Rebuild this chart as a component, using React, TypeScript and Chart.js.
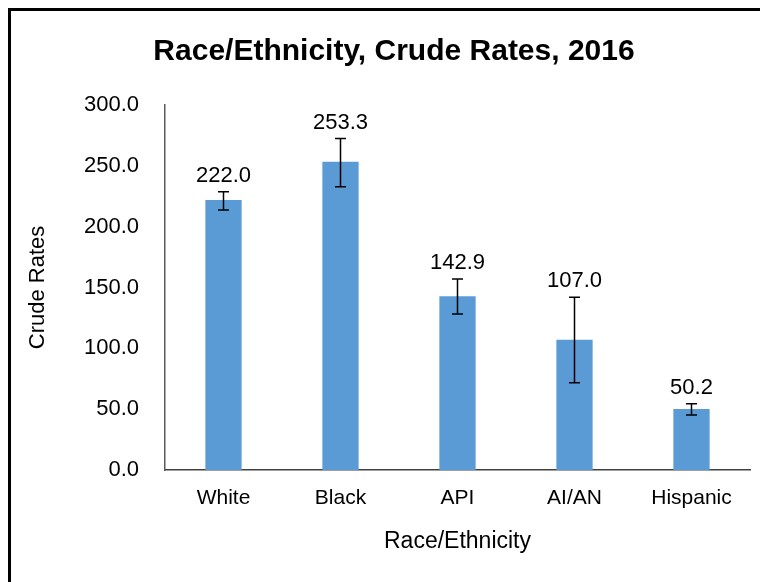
import React, { useEffect, useRef } from "react";
import { Chart, registerables } from "chart.js";

Chart.register(...registerables);

const TITLE = "Race/Ethnicity, Crude Rates, 2016";
const categories = ["White", "Black", "API", "AI/AN", "Hispanic"];
const rates = [222.0, 253.3, 142.9, 107.0, 50.2];
const errLow = [213.6, 232.8, 128.2, 71.7, 45.2];
const errHigh = [228.7, 272.5, 157.0, 141.9, 54.5];
const yTicks = [0, 50, 100, 150, 200, 250, 300];

const FONT = "'Liberation Sans', Arial, sans-serif";

const overlayPlugin = {
  id: "overlay",
  afterDatasetsDraw(chart: any) {
    const ctx = chart.ctx;
    const meta = chart.getDatasetMeta(0);
    const yScale = chart.scales.y;
    ctx.save();
    meta.data.forEach((bar: any, i: number) => {
      const x = bar.x;
      const yHi = yScale.getPixelForValue(errHigh[i]);
      const yLo = yScale.getPixelForValue(errLow[i]);
      ctx.strokeStyle = "#000";
      ctx.lineWidth = 1.5;
      ctx.beginPath();
      ctx.moveTo(x, yHi);
      ctx.lineTo(x, yLo);
      ctx.moveTo(x - 5.5, yHi);
      ctx.lineTo(x + 5.5, yHi);
      ctx.moveTo(x - 5.5, yLo);
      ctx.lineTo(x + 5.5, yLo);
      ctx.stroke();
      ctx.fillStyle = "#000";
      ctx.font = `22px ${FONT}`;
      ctx.textAlign = "center";
      ctx.textBaseline = "middle";
      ctx.fillText(rates[i].toFixed(1), x, yHi - 16);
    });
    ctx.restore();
  },
  afterDraw(chart: any) {
    const ctx = chart.ctx;
    ctx.save();
    ctx.fillStyle = "#000";
    ctx.font = `bold 30px ${FONT}`;
    ctx.textAlign = "center";
    ctx.textBaseline = "middle";
    ctx.fillText(TITLE, 394, 52);
    ctx.restore();
  },
};

export default function App() {
  const ref = useRef<HTMLCanvasElement | null>(null);
  useEffect(() => {
    if (!ref.current) return;
    const chart = new Chart(ref.current, {
      type: "bar",
      data: {
        labels: categories,
        datasets: [
          {
            data: rates,
            backgroundColor: "#5B9BD5",
            barPercentage: 0.31,
            categoryPercentage: 1,
          },
        ],
      },
      options: {
        animation: false,
        responsive: false,
        layout: { padding: { top: 105, left: 20, right: 18, bottom: 0 } },
        plugins: {
          legend: { display: false },
          tooltip: { enabled: false },
          title: { display: false },
        },
        scales: {
          x: {
            grid: { display: false, drawTicks: false },
            border: { display: true, color: "#404040", width: 1.5 },
            ticks: {
              color: "#000",
              font: { family: FONT, size: 21 },
              padding: 16,
            },
            title: {
              display: true,
              text: "Race/Ethnicity",
              color: "#000",
              font: { family: FONT, size: 23 },
              padding: { top: 0, bottom: 27 },
            },
            afterFit(scale: any) {
              scale.height = 112;
            },
          },
          y: {
            min: 0,
            max: 300,
            afterBuildTicks(scale: any) {
              scale.ticks = yTicks.map((v) => ({ value: v }));
            },
            grid: { display: false, drawTicks: false },
            border: { display: true, color: "#595959", width: 1.5 },
            ticks: {
              color: "#000",
              font: { family: FONT, size: 22 },
              padding: 26,
              callback: (v: any) => Number(v).toFixed(1),
            },
            title: {
              display: true,
              text: "Crude Rates",
              color: "#000",
              font: { family: FONT, size: 22 },
              padding: { top: 5, bottom: 0 },
            },
            afterFit(scale: any) {
              scale.width = 145;
            },
          },
        },
      },
      plugins: [overlayPlugin],
    });
    return () => chart.destroy();
  }, []);

  return (
    <div style={{ position: "relative", width: 768, height: 582 }}>
      <div
        style={{
          position: "absolute",
          left: 0,
          top: 0,
          width: 800,
          height: 620,
          border: "3px solid #000",
          boxSizing: "border-box",
        }}
      />
      <canvas
        ref={ref}
        width={768}
        height={582}
        style={{ position: "absolute", left: -8, top: -8, width: 768, height: 582 }}
      />
    </div>
  );
}
